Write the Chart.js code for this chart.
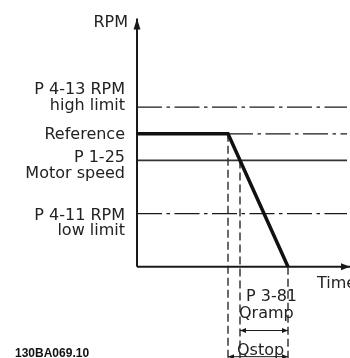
<!DOCTYPE html>
<html>
<head>
<meta charset="utf-8">
<script src="https://cdn.jsdelivr.net/npm/chart.js@4.4.1/dist/chart.umd.min.js"></script>
<style>
  body { margin: 0; background: #fff; }
  canvas { display: block; }
</style>
</head>
<body>
<canvas id="rampChart" width="350" height="358"></canvas>
<script>
// speed levels (RPM) and the parameter names shown beside them
const levelLabels = [['P 4-13 RPM', 'high limit'], ['Reference'], ['P 1-25', 'Motor speed'], ['P 4-11 RPM', 'low limit']];
const levelValues = [1800, 1500, 1200, 600];

// time points (s): stop command, motor speed reached, standstill, end of level lines
const timePoints = [9.1, 10.3, 15.1, 21.0];

// axis extents
const axisTime = [0, 21.3];
const axisRpm = [0, 2800];

// span markers below the time axis
const spanLabels = [['P 3-81', 'Qramp'], ['Qstop']];
const spanLevels = [-720, -1015];
const dropLevel = -1030;

const axisNames = ['RPM', 'Time'];
const docCode = '130BA069.10';

const [highLimit, reference, motorSpeed, lowLimit] = levelValues;
const [tStop, tMotor, tEnd, tRight] = timePoints;

const ink = '#1a1a1a';
const dashDot = [25, 4.5, 3.5, 4.5];
const dashed = [8, 4];

function seg(points, extra) {
    return Object.assign({
        data: points.map(p => ({ x: p[0], y: p[1] })),
        showLine: true,
        pointRadius: 0,
        borderColor: ink,
        borderWidth: 1.3,
        fill: false,
        tension: 0,
        clip: false
    }, extra);
}

// arrow heads at the ends of flagged lines
const arrowHeads = {
    id: 'arrowHeads',
    afterDatasetsDraw(chart) {
        const ctx = chart.ctx;
        chart.data.datasets.forEach((ds, i) => {
            if (!ds.arrowEnd && !ds.arrowStart) return;
            const pts = chart.getDatasetMeta(i).data;
            const head = (tip, from, len, half) => {
                const a = Math.atan2(tip.y - from.y, tip.x - from.x);
                ctx.save();
                ctx.fillStyle = ds.borderColor;
                ctx.beginPath();
                ctx.moveTo(tip.x, tip.y);
                ctx.lineTo(tip.x - len * Math.cos(a) + half * Math.sin(a), tip.y - len * Math.sin(a) - half * Math.cos(a));
                ctx.lineTo(tip.x - len * Math.cos(a) - half * Math.sin(a), tip.y - len * Math.sin(a) + half * Math.cos(a));
                ctx.closePath();
                ctx.fill();
                ctx.restore();
            };
            const len = ds.arrowLen || 11, half = ds.arrowHalf || 3.5;
            if (ds.arrowEnd) head(pts[pts.length - 1], pts[pts.length - 2], len, half);
            if (ds.arrowStart) head(pts[0], pts[1], len, half);
        });
    }
};

// all the text around the plot
const diagramText = {
    id: 'diagramText',
    afterDraw(chart) {
        const ctx = chart.ctx;
        const x = chart.scales.x, y = chart.scales.y;
        const x0 = x.getPixelForValue(0);
        ctx.save();
        ctx.fillStyle = '#222';
        ctx.font = '16px "DejaVu Sans"';
        ctx.textBaseline = 'alphabetic';

        // level names, right aligned left of the speed axis
        const leftShift = [-13, 5, 2, 6];
        ctx.textAlign = 'right';
        levelLabels.forEach((lines, i) => {
            const base = y.getPixelForValue(levelValues[i]) + leftShift[i];
            lines.forEach((t, j) => ctx.fillText(t, x0 - 12, base + j * 15.5));
        });
        ctx.fillText(axisNames[0], x0 - 9, 27);

        ctx.textAlign = 'left';
        ctx.fillText(axisNames[1], x.getPixelForValue(tEnd) + 29, y.getPixelForValue(0) + 21);

        const xm = x.getPixelForValue(tMotor);
        const ys = y.getPixelForValue(spanLevels[0]);
        ctx.fillText(spanLabels[0][0], xm + 6, ys - 30);
        ctx.fillText(spanLabels[0][1], xm - 1, ys - 13);
        ctx.fillText(spanLabels[1][0], x.getPixelForValue(tStop) + 9, y.getPixelForValue(spanLevels[1]) - 2);

        ctx.font = 'bold 12px "Liberation Sans"';
        ctx.fillStyle = '#111';
        ctx.fillText(docCode, 15, 357);
        ctx.restore();
    }
};

new Chart(document.getElementById('rampChart'), {
    type: 'scatter',
    data: {
        datasets: [
            // motor speed trace: hold reference, then ramp down to standstill
            seg([[0, reference], [tStop, reference], [tEnd, 0]], { borderWidth: 3.5, borderColor: '#111', borderJoinStyle: 'miter' }),
            // axes
            seg([[0, 0], [0, axisRpm[1]]], { borderWidth: 2, arrowEnd: true, arrowLen: 11, arrowHalf: 3.5 }),
            seg([[0, 0], [axisTime[1], 0]], { borderWidth: 2, arrowEnd: true, arrowLen: 9, arrowHalf: 3.5 }),
            // level lines
            seg([[0, highLimit], [tRight, highLimit]], { borderDash: dashDot }),
            seg([[tStop, reference], [tRight, reference]], { borderDash: dashDot }),
            seg([[0, motorSpeed], [tRight, motorSpeed]], { borderWidth: 1.6, borderColor: '#333' }),
            seg([[0, lowLimit], [tRight, lowLimit]], { borderDash: dashDot }),
            // drop lines
            seg([[tStop, reference], [tStop, dropLevel]], { borderDash: dashed }),
            seg([[tMotor, motorSpeed], [tMotor, dropLevel]], { borderDash: dashed }),
            seg([[tEnd, 0], [tEnd, dropLevel]], { borderDash: dashed }),
            // ramp time spans
            seg([[tMotor, spanLevels[0]], [tEnd, spanLevels[0]]], { borderWidth: 1, arrowStart: true, arrowEnd: true, arrowLen: 6, arrowHalf: 2.5 }),
            seg([[tStop, spanLevels[1]], [tEnd, spanLevels[1]]], { borderWidth: 1, arrowStart: true, arrowEnd: true, arrowLen: 6, arrowHalf: 2.5 })
        ]
    },
    options: {
        responsive: false,
        animation: false,
        layout: { padding: { left: 137, right: 0, top: 0, bottom: 0 } },
        scales: {
            x: { type: 'linear', display: false, min: axisTime[0], max: axisTime[1] },
            y: { type: 'linear', display: false, min: dropLevel, max: 3010 }
        },
        plugins: { legend: { display: false }, tooltip: { enabled: false } }
    },
    plugins: [arrowHeads, diagramText]
});
</script>
</body>
</html>
